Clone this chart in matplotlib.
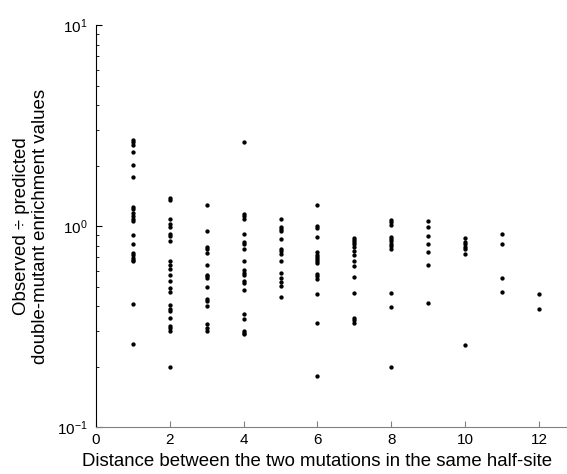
import numpy as np
import matplotlib
matplotlib.use('Agg')
import matplotlib.pyplot as plt
from matplotlib.ticker import LogLocator, FixedLocator

plt.rcParams['font.family'] = ['Liberation Sans', 'DejaVu Sans']
plt.rcParams['mathtext.fontset'] = 'custom'
plt.rcParams['mathtext.rm'] = 'Liberation Sans'
plt.rcParams['mathtext.it'] = 'Liberation Sans:italic'
plt.rcParams['mathtext.bf'] = 'Liberation Sans:bold'

# observed / predicted ratios, grouped by distance
d1 = [2.67, 2.61, 2.54, 2.35, 2.02, 1.75, 1.25, 1.21, 1.16, 1.12, 1.08, 1.06,
      0.908, 0.81, 0.736, 0.722, 0.695, 0.682, 0.669, 0.408, 0.258]
d2 = [1.38, 1.35, 1.08, 1.02, 0.99, 0.91, 0.89, 0.84, 0.67, 0.64, 0.61, 0.574,
      0.532, 0.494, 0.47, 0.403, 0.385, 0.378, 0.35, 0.32, 0.312, 0.30, 0.198]
d3 = [1.28, 0.95, 0.79, 0.773, 0.736, 0.638, 0.574, 0.563, 0.553, 0.499,
      0.432, 0.423, 0.40, 0.324, 0.312, 0.30]
d4 = [2.61, 1.15, 1.12, 1.09, 0.915, 0.83, 0.816, 0.765, 0.669, 0.604, 0.586,
      0.568, 0.532, 0.523, 0.48, 0.364, 0.344, 0.30, 0.295, 0.29]
d5 = [1.09, 0.99, 0.97, 0.94, 0.864, 0.77, 0.75, 0.73, 0.669, 0.586, 0.553,
      0.526, 0.503, 0.443]
d6 = [1.28, 1.006, 0.98, 0.88, 0.745, 0.722, 0.703, 0.687, 0.669, 0.652,
      0.579, 0.563, 0.547, 0.457, 0.328, 0.18]
d7 = [0.874, 0.85, 0.83, 0.81, 0.789, 0.75, 0.722, 0.669, 0.631, 0.56, 0.462,
      0.347, 0.34, 0.331]
d8 = [1.07, 1.045, 1.017, 0.884, 0.864, 0.84, 0.819, 0.80, 0.77, 0.462,
      0.397, 0.198]
d9 = [1.057, 0.99, 0.897, 0.812, 0.745, 0.644, 0.416]
d10 = [0.874, 0.83, 0.81, 0.789, 0.765, 0.728, 0.256]
d11 = [0.918, 0.812, 0.553, 0.47]
d12 = [0.457, 0.388]

groups = [d1, d2, d3, d4, d5, d6, d7, d8, d9, d10, d11, d12]
distances = list(range(1, 13))

fig = plt.figure(figsize=(5.67, 4.74), dpi=100)
ax = fig.add_axes([0.1693, 0.099, 0.8307, 0.848])

for dist, vals in zip(distances, groups):
    ax.plot([dist] * len(vals), vals, '.', color='black', markersize=4.2)

ax.set_yscale('log')
ax.set_ylim(0.1, 10)
ax.set_xlim(0, 12.76)
ax.xaxis.set_major_locator(FixedLocator([0, 2, 4, 6, 8, 10, 12]))
ax.yaxis.set_major_locator(LogLocator(base=10, numticks=5))
ax.yaxis.set_minor_locator(LogLocator(base=10, subs=np.arange(2, 10), numticks=20))

# matlab look: only left/bottom axes, ticks inside
ax.spines['top'].set_visible(False)
ax.spines['right'].set_visible(False)
ax.spines['bottom'].set_color('#808080')
ax.spines['left'].set_color('black')
ax.tick_params(axis='both', which='both', direction='in', labelsize=11)
ax.tick_params(axis='x', which='major', length=4, pad=4, color='#808080')
ax.tick_params(axis='y', which='major', length=4, pad=6)
ax.tick_params(axis='y', which='minor', length=2.5)

ax.set_xlabel('Distance between the two mutations in the same half-site',
              fontsize=13.4)
ax.xaxis.set_label_coords(0.47, -0.065)
ax.set_ylabel('Observed \u00f7 predicted\ndouble-mutant enrichment values',
              fontsize=13.4, linespacing=1.15, va='center')
ax.yaxis.set_label_coords(-0.138, 0.5)

fig.savefig('out.png', dpi=100)
